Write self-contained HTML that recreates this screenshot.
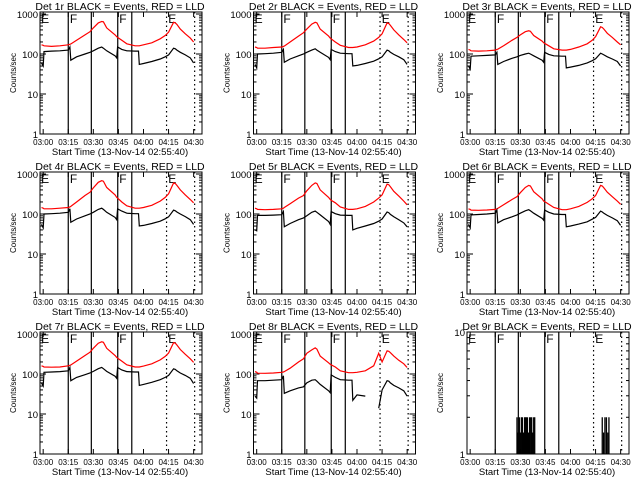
<!DOCTYPE html>
<html><head><meta charset="utf-8"><style>
body{margin:0;background:#fff;width:640px;height:480px;overflow:hidden}
svg text{font-family:"Liberation Sans",sans-serif;fill:#000}
</style></head><body>
<svg id="c" width="640" height="480" xmlns="http://www.w3.org/2000/svg"></svg>
<script>
const times=[-1,0,0.5,5,10,15,16,16.5,20,25,28,30,33,35,36,38,43,44,44.5,47,50,55,57,57.5,60,65,70,73,75,78,79,80,82,85,88,90];
const red1=[170,165,160,155,160,170,175,178,220,300,360,450,600,650,640,450,300,270,260,220,180,160,160,160,170,190,240,290,350,620,600,550,420,320,250,200];
const blk1=[60,50,115,118,120,125,150,70,85,100,110,120,140,150,140,120,90,80,150,130,120,118,118,55,58,65,75,85,95,140,135,125,110,95,80,60];
const red2=[150,145,140,140,145,150,155,158,200,280,340,420,560,620,600,420,280,250,240,200,165,145,145,145,150,170,210,260,320,600,580,520,400,300,230,190];
const blk2=[55,45,100,102,105,110,130,62,75,90,100,110,125,135,125,110,82,72,130,115,105,102,102,50,52,58,66,76,85,125,120,110,98,85,72,55];
const red3=[130,125,120,118,120,125,130,132,160,220,260,300,360,380,370,290,210,190,185,160,135,125,125,125,130,150,180,220,270,480,460,420,330,260,200,170];
const blk3=[50,42,88,90,92,95,110,55,65,78,85,92,100,105,100,90,70,62,110,98,90,88,88,45,47,52,60,68,76,105,100,95,85,75,65,50];
const red4=[145,140,135,135,140,145,150,155,200,290,350,450,620,680,660,460,300,260,250,200,160,140,140,140,145,165,210,260,320,600,580,520,400,300,230,190];
const blk4=[55,45,100,102,105,110,135,62,75,90,100,110,130,140,130,110,82,72,135,118,105,102,102,50,52,58,66,76,85,125,120,112,100,86,72,55];
const red5=[140,135,130,128,130,135,140,145,180,250,290,380,520,600,580,400,260,230,220,190,150,130,130,130,135,155,200,250,300,560,540,480,370,280,210,170];
const blk5=[40,38,92,92,94,96,115,48,58,72,80,90,110,118,110,95,65,55,115,102,94,92,92,40,44,50,58,66,75,112,108,98,85,72,60,48];
const red6=[135,130,125,124,126,130,135,138,170,230,270,340,460,520,500,360,240,210,205,175,145,128,128,128,135,155,195,240,290,520,500,450,350,270,210,175];
const blk6=[55,45,95,97,100,105,125,60,72,85,95,105,120,128,120,105,78,70,125,110,100,97,97,48,50,56,64,74,82,118,112,104,92,80,68,52];
const red7=[160,155,150,148,150,160,165,168,210,290,350,440,590,640,620,440,290,260,250,210,170,150,150,150,158,180,225,275,335,610,590,530,410,310,240,195];
const blk7=[60,50,110,112,115,120,145,68,82,96,106,116,136,146,136,116,88,78,145,126,115,112,112,52,55,62,72,82,92,135,130,120,106,92,78,58];
const red8=[115,110,105,104,106,110,112,115,140,200,240,330,400,450,420,280,190,175,170,150,120,108,108,108,110,120,160,330,200,380,370,340,280,220,180,145];
const blk8=[28,25,68,68,70,72,90,33,38,45,48,60,70,72,66,55,38,34,95,82,72,70,70,22,30,28,22,14,40,68,66,60,52,45,38,28];
const blk8Gap=[false,false,false,false,false,false,false,false,false,false,false,false,false,false,false,false,false,false,false,false,false,false,false,false,false,false,true,false,false,false,false,false,false,false,false,false];
const bar9Times=[28,28.7,29.4,30,30.6,31.2,31.8,32.5,33,33.6,34.2,34.8,35.5,36.2,36.8,37.4,38,38.6,79,79.8,80.6,81.5,82.3,83];
const bar9Vals=[2,1.5,2,1.5,2,2,1.5,2,2,2,2,1.5,2,2,2,1.5,2,2,2,1.5,2,2,1.5,2];
const xTickMin=[0,15,30,45,60,75,90];
const xTickLabels=["03:00","03:15","03:30","03:45","04:00","04:15","04:30"];
const solidLines=[15,28.8,44.6,53];
const dottedLines=[73.8,90.6];
const markers=[["E",-1.8],["F",15.4],["F",44.9],["E",74.2]];
const panels=[
 {n:1,red:red1,blk:blk1},{n:2,red:red2,blk:blk2},{n:3,red:red3,blk:blk3},
 {n:4,red:red4,blk:blk4},{n:5,red:red5,blk:blk5},{n:6,red:red6,blk:blk6},
 {n:7,red:red7,blk:blk7},{n:8,red:red8,blk:blk8,gap:blk8Gap},{n:9}
];
const svg=document.getElementById('c');
const NS='http://www.w3.org/2000/svg';
function mk(tag,attrs,parent,txt){const e=document.createElementNS(NS,tag);for(const k in attrs)e.setAttribute(k,attrs[k]);if(txt!==undefined)e.textContent=txt;parent.appendChild(e);return e;}
const L=40,R=202,T=12,B=134,t0=-1.9,t1=95;
panels.forEach((p,i)=>{
 const ox=(i%3)*213.5, oy=Math.floor(i/3)*160;
 const g=mk('g',{transform:`translate(${ox},${oy})`},svg);
 
 
 const ymin=1, ymax=(p.n===9)?10:1122;
 const xs=t=>L+(t-t0)/(t1-t0)*(R-L);
 const ys=v=>B-(Math.log10(v)-Math.log10(ymin))/(Math.log10(ymax)-Math.log10(ymin))*(B-T);
 const title=mk('text',{x:120,y:10,'font-size':10.5,'text-anchor':'middle'},g,`Det ${p.n}r BLACK = Events, RED = LLD`);
 
 
 const box=mk('rect',{x:L,y:T,width:R-L,height:B-T,fill:'none',stroke:'#000','stroke-width':1},g);
 
 
 const decades=p.n===9?[1,10]:[1,10,100,1000];
 decades.forEach(d=>{
  const y=ys(d);
  mk('line',{x1:L,x2:L+6,y1:y,y2:y,stroke:'#000'},g);mk('line',{x1:R,x2:R-6,y1:y,y2:y,stroke:'#000'},g);
  const lb=mk('text',{x:L-2,y:y+4,'font-size':9.5,'text-anchor':'end'},g,String(d));
  
  
  if(d<ymax/1.01) for(let m=2;m<10;m++){const v=d*m;if(v>ymax)break;const yy=ys(v);
   mk('line',{x1:L,x2:L+3,y1:yy,y2:yy,stroke:'#000'},g);mk('line',{x1:R,x2:R-3,y1:yy,y2:yy,stroke:'#000'},g);}
 });
 xTickMin.forEach((t,k)=>{const x=xs(t);
  mk('line',{x1:x,x2:x,y1:B,y2:B-5,stroke:'#000'},g);mk('line',{x1:x,x2:x,y1:T,y2:T+5,stroke:'#000'},g);
  const lb=mk('text',{x:x,y:B+11,'font-size':8,'text-anchor':'middle'},g,xTickLabels[k]);
  
  
 });
 const xt=mk('text',{x:120,y:B+21,'font-size':9.5,'text-anchor':'middle'},g,'Start Time (13-Nov-14 02:55:40)');
 
 
 const yt=mk('text',{x:0,y:0,'font-size':8,'text-anchor':'middle',transform:`translate(16,${(T+B)/2}) rotate(-90)`},g,'Counts/sec');
 
 
 solidLines.forEach(t=>{const l=mk('line',{x1:xs(t),x2:xs(t),y1:T,y2:B,stroke:'#000','stroke-width':1.2},g);
  
  });
 dottedLines.forEach(t=>{const l=mk('line',{x1:xs(t),x2:xs(t),y1:T,y2:B,stroke:'#000','stroke-width':1.2,'stroke-dasharray':'1.5,3'},g);
  
  });
 markers.forEach(m=>{const tx=mk('text',{x:xs(m[1])+1,y:T+11,'font-size':12},g,m[0]);
  
  });
 if(p.n!==9){
  const pts=s=>s.map((v,k)=>xs(times[k]).toFixed(1)+','+ys(v).toFixed(1)).join(' ');
  const r=mk('polyline',{points:pts(p.red),fill:'none',stroke:'#f00','stroke-width':1.2},g);
  
  
  let segs=[[]];
  p.blk.forEach((v,k)=>{if(p.gap&&p.gap[k]){segs.push([]);}else segs[segs.length-1].push(xs(times[k]).toFixed(1)+','+ys(v).toFixed(1));});
  segs.forEach(s=>{if(s.length<2)return;const b=mk('polyline',{points:s.join(' '),fill:'none',stroke:'#000','stroke-width':1.2},g);
   
   });
 } else {
  bar9Times.forEach((t,k)=>{const b=mk('line',{x1:xs(t),x2:xs(t),y1:ys(1),y2:ys(bar9Vals[k]),stroke:'#000','stroke-width':1.3},g);
   
   });
 }
});
</script>
</body></html>
